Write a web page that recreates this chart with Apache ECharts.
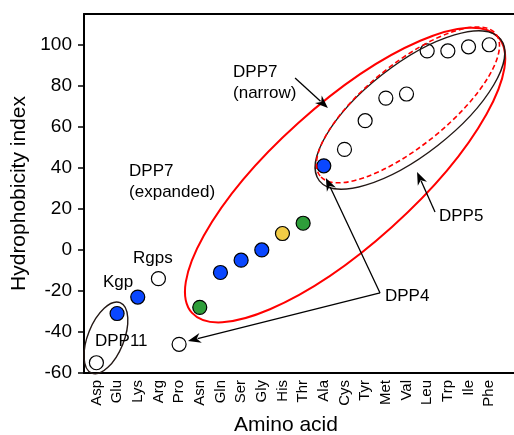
<!DOCTYPE html>
<html>
<head>
<meta charset="utf-8">
<script src="https://cdn.jsdelivr.net/npm/echarts@6/dist/echarts.min.js"></script>
<style>
  html, body { margin: 0; padding: 0; background: #fff; }
  #main { width: 514px; height: 435px; }
</style>
</head>
<body>
<div id="main"></div>
<script>
var aminoAcids = ['Asp', 'Glu', 'Lys', 'Arg', 'Pro', 'Asn', 'Gln', 'Ser', 'Gly', 'His',
                  'Thr', 'Ala', 'Cys', 'Tyr', 'Met', 'Val', 'Leu', 'Trp', 'Ile', 'Phe'];
var hydrophobicity = [-55, -31, -23, -14, -46, -28, -11, -5, 0, 8,
                      13, 41, 49, 63, 74, 76, 97, 97, 99, 100];
var pointGroup = ['open', 'blue', 'blue', 'open', 'open', 'green', 'blue', 'blue', 'blue', 'yellow',
                  'green', 'blue', 'open', 'open', 'open', 'open', 'open', 'open', 'open', 'open'];
var yTicks = [-60, -40, -20, 0, 20, 40, 60, 80, 100];

var groupColor = { open: '#ffffff', blue: '#0a47ff', green: '#2e9e3a', yellow: '#f2cb45' };

// annotation shapes, anchored in data coordinates (x = index, y = value)
var ellipses = [
    { c: [12.03, 36.5], rx: 206, ry: 70, angle: 42, color: '#ff0000', dash: null, w: 2 },
    { c: [15.17, 68.2], rx: 115, ry: 45, angle: 38, color: '#231815', dash: null, w: 1.4 },
    { c: [15.07, 70.7], rx: 113, ry: 41, angle: 39, color: '#ff0000', dash: [5, 3], w: 1.6 },
    { c: [0.46, -42.9], rx: 38, ry: 18, angle: 68, color: '#231815', dash: null, w: 1.4 }
];
var arrows = [
    { from: [9.61, 83.8], to: [11.2, 69.2] },
    { from: [13.72, -21], to: [11.1, 35.1] },
    { from: [13.72, -21], to: [4.43, -44.4] },
    { from: [16.38, 18.5], to: [15.51, 38] }
];
var notes = [
    { text: 'DPP7\n(narrow)', at: [6.61, 81.7] },
    { text: 'DPP7\n(expanded)', at: [1.58, 33.4] },
    { text: 'Rgps', at: [1.77, -3.9] },
    { text: 'Kgp', at: [0.32, -15.6] },
    { text: 'DPP11', at: [-0.07, -44.4] },
    { text: 'DPP4', at: [13.96, -22.5] },
    { text: 'DPP5', at: [16.57, 16.5] }
];

var myChart = echarts.init(document.getElementById('main'));
var font = 'Liberation Sans, Arial, sans-serif';

var points = hydrophobicity.map(function (v, i) {
    return { value: [i, v], itemStyle: { color: groupColor[pointGroup[i]] } };
});

option = {
    animation: false,
    textStyle: { fontFamily: font },
    grid: { left: 84, right: 0, top: 14, bottom: 62, outerBoundsMode: 'none' },
    xAxis: [
        {
            type: 'value',
            min: -0.6,
            max: 20.2,
            name: 'Amino acid',
            nameLocation: 'middle',
            nameGap: 41,
            nameTextStyle: { fontSize: 21, color: '#000', padding: [0, 26, 0, 0] },
            axisLine: { onZero: false, lineStyle: { color: '#000', width: 2 } },
            axisTick: { show: false },
            splitLine: { show: false },
            axisLabel: {
                customValues: aminoAcids.map(function (a, i) { return i; }),
                formatter: function (v) { return aminoAcids[v]; },
                rotate: 90,
                margin: 7,
                fontSize: 15,
                color: '#000'
            }
        },
        {
            type: 'value',
            position: 'top',
            min: -0.6,
            max: 20.2,
            axisLine: { onZero: false, lineStyle: { color: '#000', width: 2 } },
            axisTick: { show: false },
            axisLabel: { show: false },
            splitLine: { show: false }
        }
    ],
    yAxis: {
        type: 'value',
        min: -60,
        max: 115,
        name: 'Hydrophobicity index',
        nameLocation: 'middle',
        nameGap: 51,
        nameTextStyle: { fontSize: 21, color: '#000' },
        axisLine: { show: true, onZero: false, lineStyle: { color: '#000', width: 2 } },
        axisTick: { customValues: yTicks, length: 6, lineStyle: { color: '#000', width: 1.5 } },
        splitLine: { show: false },
        axisLabel: { customValues: yTicks, fontSize: 19, color: '#000', margin: 12 }
    },
    series: [
        {
            type: 'scatter',
            symbolSize: 14,
            itemStyle: { borderColor: '#000', borderWidth: 1.2, opacity: 1 },
            data: points,
            z: 5
        }
    ]
};
myChart.setOption(option);

function px(p) { return myChart.convertToPixel({ gridIndex: 0 }, p); }

var elements = [];
ellipses.forEach(function (e) {
    var c = px(e.c);
    elements.push({
        type: 'ellipse',
        x: c[0], y: c[1],
        rotation: e.angle * Math.PI / 180,
        shape: { cx: 0, cy: 0, rx: e.rx, ry: e.ry },
        style: { fill: null, stroke: e.color, lineWidth: e.w, lineDash: e.dash },
        z: 10
    });
});
arrows.forEach(function (a) {
    var p1 = px(a.from), p2 = px(a.to);
    var ang = Math.atan2(p2[1] - p1[1], p2[0] - p1[0]);
    var L = 13, W = 5;
    var bx = p2[0] - L * Math.cos(ang), by = p2[1] - L * Math.sin(ang);
    var nx = -Math.sin(ang), ny = Math.cos(ang);
    elements.push({
        type: 'line',
        shape: { x1: p1[0], y1: p1[1], x2: bx + 3 * Math.cos(ang), y2: by + 3 * Math.sin(ang) },
        style: { stroke: '#000', lineWidth: 1.3 },
        z: 11
    });
    elements.push({
        type: 'polygon',
        shape: { points: [[p2[0], p2[1]], [bx + nx * W, by + ny * W], [bx + 4 * Math.cos(ang), by + 4 * Math.sin(ang)], [bx - nx * W, by - ny * W]] },
        style: { fill: '#000' },
        z: 11
    });
});
notes.forEach(function (n) {
    var p = px(n.at);
    elements.push({
        type: 'text',
        x: p[0], y: p[1],
        style: { text: n.text, fill: '#000', font: '17px ' + font, lineHeight: 21, verticalAlign: 'middle' },
        z: 12
    });
});
myChart.setOption({ graphic: { elements: elements } });

window.addEventListener('resize', function () {
    myChart.resize();
});
</script>
</body>
</html>
